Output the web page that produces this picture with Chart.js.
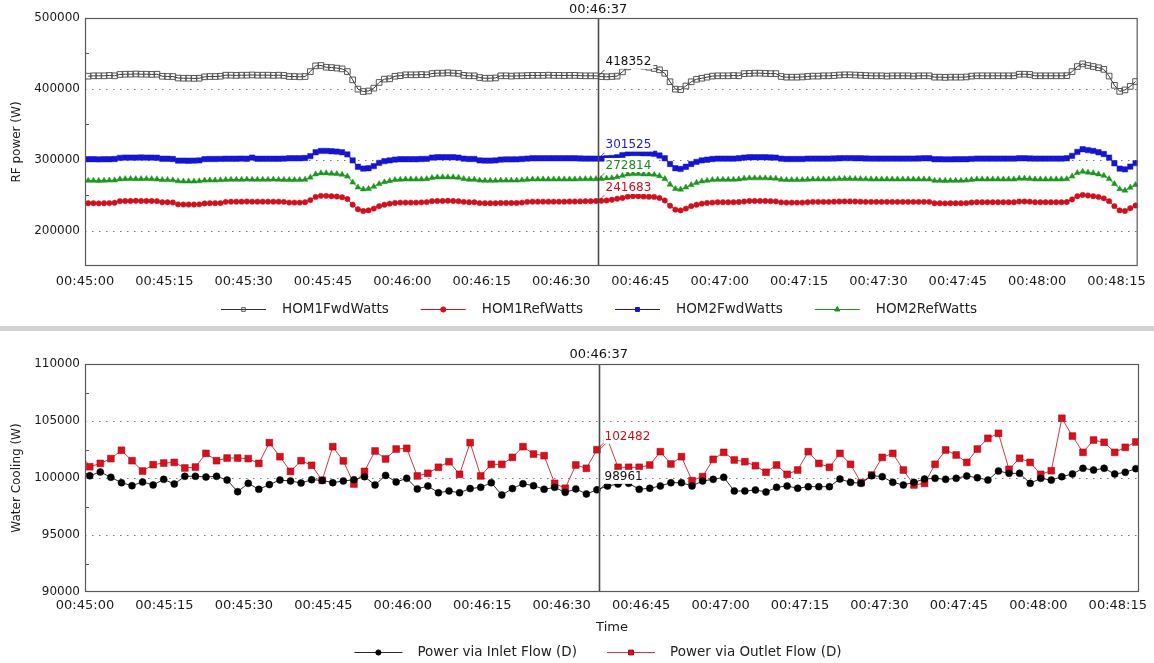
<!DOCTYPE html>
<html><head><meta charset="utf-8">
<script src="https://cdn.jsdelivr.net/npm/chart.js@4.4.1/dist/chart.umd.min.js"></script>
<style>
html,body{margin:0;padding:0;background:#fff;}
#wrap{position:relative;width:1154px;height:663px;overflow:hidden;background:#fff;}
#c1{position:absolute;left:0;top:0;}
#sep{position:absolute;left:0;top:326px;width:1154px;height:5px;background:#d2d2d2;}
#c2{position:absolute;left:0;top:331px;}
</style></head><body>
<div id="wrap">
<canvas id="c1" width="1154" height="326"></canvas>
<div id="sep"></div>
<canvas id="c2" width="1154" height="332"></canvas>
</div>
<script>
// ---------------- DATA ----------------
const clockStart = 45 * 60;          // 00:45:00 (seconds)
const cursorTime = 97;               // 00:46:37 (seconds after start)
const axisMaxTime = 199;
const rfStart = 0.6, rfStep = 1;     // RF power sampling grid (s)
const coolStart = -1.1, coolStep = 1.995; // water cooling sampling grid (s)

const rfTickValues = [200000, 300000, 400000, 500000];
const coolTickValues = [90000, 95000, 100000, 105000, 110000];

const rfSeriesNames = ['HOM1FwdWatts', 'HOM1RefWatts', 'HOM2FwdWatts', 'HOM2RefWatts'];
const coolSeriesNames = ['Power via Inlet Flow (D)', 'Power via Outlet Flow (D)'];
const rfAxisTitle = 'RF power (W)';
const coolAxisTitle = 'Water Cooling (W)';
const timeAxisTitle = 'Time';

const hom1Fwd = [
417900,418400,418400,418400,418900,418400,
420300,420700,420700,421000,420700,420700,420400,420700,
417800,417400,417400,
415300,415000,415000,414800,415000,
417000,417400,417400,417800,
419300,419300,419000,419300,419300,419600,419300,419300,419300,419000,419300,418900,
417400,417400,417000,417400,
424400,432500,433000,430500,430000,429300,428200,424400,
412700,399600,396200,397000,401000,409000,413700,414200,
417800,418600,419800,419800,419800,420200,419800,
421600,422200,422200,422600,422200,421800,
419000,418400,418400,
416000,415000,415000,415400,
418400,418400,418000,418400,418400,
418800,419000,419000,419000,419300,419000,419000,418800,419000,419000,418600,418400,418400,
418352,
417400,417000,417400,418000,
424000,431000,433500,433000,432000,430500,428800,
426800,422000,410000,399600,399000,404000,410000,413500,415000,416500,
418000,418400,418400,418400,418800,418400,
421500,421800,422200,422200,421800,421500,421500,
417500,416500,416500,416500,416800,
417500,418000,418000,418400,418400,418800,419500,419800,419800,419500,419200,418800,418400,418400,418400,418000,418400,418400,418400,418400,418000,418400,418400,418400,
416500,416500,416200,416500,416500,416500,416800,
418000,418400,418400,418400,418400,418400,418400,418400,418400,
420700,420700,420300,
418400,418400,418400,418400,418400,418400,418600,
424400,431500,435300,433000,431500,429800,427500,418000,405000,396500,398500,403500,410300
];
const hom1Ref = [
238600,238600,238400,238600,238800,239200,
241500,241800,241800,242000,241800,241800,241800,241500,
240000,240000,239600,
237000,236700,236700,236700,237000,
238300,238600,238600,238800,
240500,240800,240800,240800,241000,240800,240800,240800,240800,240800,240800,240500,
239500,239500,239500,240000,
243000,247500,249000,249000,248500,248000,247000,244500,
236500,230000,227700,228500,231000,234500,236500,238000,
239000,239500,239500,239500,239500,239800,240200,
241500,241800,241800,242000,241800,241500,
240500,240000,240000,
238800,238600,238600,238600,
239000,239000,239000,239000,239500,
240500,240800,240800,240800,240800,240800,240800,240800,241000,241000,241200,241500,241500,
241683,
242000,242500,243500,245000,
246000,247900,248500,248500,248000,247800,247500,
246000,242500,235000,229500,228500,231000,234500,236500,238000,239000,
239500,240000,240000,240000,240000,240300,
241000,241800,241800,241800,241800,241500,241200,
239800,239500,239500,239500,239500,
240000,240500,240500,240500,240500,240800,241000,241200,241200,241000,240800,240500,240500,240500,240500,240500,240500,240500,240500,240500,240500,240500,240500,240500,
238600,238600,238400,238600,238600,238600,238800,
239600,240000,240000,240000,240000,240000,240000,240000,240000,
241000,241000,240800,
240000,240000,240000,240000,240000,240000,240300,
244000,248500,250300,249500,248500,247500,245500,241500,234500,228500,227700,231500,235300
];
const hom2Fwd = [
300700,300700,300500,300700,300700,301000,
302600,303000,303000,303000,303200,303000,303000,302800,
301400,301400,301000,
298700,298700,298500,298700,299000,
300800,301000,301000,301200,
301400,301400,301400,301600,301400,303000,301400,301400,301400,301400,301400,301600,
302000,302000,302000,302400,
305000,310500,312400,312400,312000,311500,310500,307500,
299000,290000,287500,288000,291000,295500,298000,299000,
300200,300700,300700,300700,300700,301000,301200,
303000,303500,303500,303500,303500,303000,
301500,301000,301000,
299000,298700,298700,299000,
300200,300500,300500,300500,301000,
301600,302000,302000,302000,302000,302000,302000,302000,302000,302000,301800,301600,301600,
301525,
301500,302000,302500,303500,
306500,309200,309500,309500,309200,309000,308500,
306000,302000,294000,288000,287000,290000,294000,297000,299000,300000,
301000,301500,301500,301500,301500,302000,
303000,303500,303500,303500,303500,303200,303000,
301500,301000,301000,301000,301000,
301500,301600,301600,301600,301600,301800,302000,302200,302200,302000,302000,301800,301600,301600,301600,301600,301600,301600,301600,301600,301600,301800,302000,302000,
300700,300700,300500,300500,300700,300700,300700,
301200,301600,301600,301600,301600,301600,301600,301600,301600,
302000,302000,301800,
301600,301600,301600,301600,301600,301600,302000,
305500,311000,314800,313500,312400,310500,308000,303000,295000,287500,286400,290300,295100
];
const hom2Ref = [
270500,270500,270300,270500,270800,271000,
272500,272800,273000,272800,272800,273000,272800,272500,
271500,271500,271200,
269800,269500,269500,269500,269800,
270800,271000,271000,271200,
271800,272000,272000,272000,272200,272000,272000,272000,272000,272200,272000,271800,
271500,271500,271500,272000,
275000,279500,281000,281000,280500,280000,279000,276500,
268000,261000,258300,259000,262000,266000,268500,270000,
271500,272000,272400,272400,272400,272400,272800,
274500,275300,275300,275300,275300,274800,
273000,272000,272000,
270800,270500,270500,270500,
270800,270800,270800,270800,271200,
272000,272400,272400,272400,272400,272400,272400,272400,272400,272400,272600,272800,272800,
272814,
273000,273500,274000,275500,
277500,279500,280000,280000,279500,279500,279000,
277000,273000,265000,259000,258000,261000,264500,267500,269500,270500,
271500,272000,272000,272000,272000,272400,
273500,274000,274000,274000,274000,273800,273500,
272000,271500,271500,271500,271500,
272000,272400,272400,272400,272400,272600,273000,273200,273200,273000,272800,272600,272400,272400,272400,272400,272400,272400,272400,272400,272400,272400,272400,272400,
270500,270500,270300,270500,270500,270500,270800,
271800,272400,272400,272400,272400,272400,272400,272400,272400,
273500,273500,273200,
272400,272400,272400,272400,272400,272400,272800,
276500,281500,283200,282000,281000,279500,277500,273000,266000,258500,256600,260800,264600
];

const inletPower = [
100770,
100200,100530,100060,99590,99330,99650,99390,99880,99470,100150,
100150,100090,100150,99820,98800,99530,99010,99420,99820,99740,
99560,99850,99790,99590,99740,99850,100120,99390,100230,99650,
99970,99040,99300,98710,98860,98710,99070,99180,99590,98510,
99070,99500,99330,99010,99180,98740,99040,98600,98961,
99300,99470,99530,
99010,99100,99300,99590,99590,99300,99740,99880,100060,98860,
98860,98950,98770,99180,99300,99100,
99240,99240,99240,99910,99620,99530,100200,100120,99620,99390,
99620,99910,99970,99880,99970,100180,100030,99820,100610,100410,
100410,99530,99970,99820,100120,100350,100850,100700,100850,100350,
100500,100820
];
const outletPower = [
102300,
100990,101280,101700,102430,101520,100610,101170,101310,101370,100880,
100960,102160,101520,101750,101750,101700,101280,103100,101870,100580,
101520,101110,99800,102750,101500,99470,100580,102370,101670,102540,
102600,100180,100410,100940,101430,100320,103100,100180,101200,101200,
101810,102750,102100,101960,99530,99100,101140,100850,102482,
103400,100940,100940,
100940,101140,102310,101230,101870,99770,100120,101640,102250,101580,
101430,101080,100500,101140,100320,100700,
102310,101280,100940,102160,101200,99590,100260,101810,102160,100700,
99390,99530,101200,102460,102020,101370,102540,103480,103920,100760,
101730,101370,100320,100640,105240,103680,102250,103330,103130,102250,
102690,103160
];

// ---------------- HELPERS ----------------
const FONT = '"DejaVu Sans", Verdana, sans-serif';
const pad2 = n => String(n).padStart(2, '0');
function clock(t) {
  const s = Math.round(clockStart + t);
  return pad2(Math.floor(s / 3600)) + ':' + pad2(Math.floor(s / 60) % 60) + ':' + pad2(s % 60);
}
const toPoints = (arr, start, step) => arr.map((v, i) => ({ x: start + i * step, y: v }));

function framePlugin(opts) {
  return {
    id: 'frame',
    beforeDatasetsDraw(chart) {
      // dotted horizontal grid lines at the y ticks (inside the plot only)
      const { ctx, chartArea: a, scales } = chart;
      ctx.save();
      ctx.strokeStyle = '#7a7a7a'; ctx.lineWidth = 1; ctx.setLineDash([1.5, 5.5]);
      scales.y.ticks.forEach(t => {
        const py = Math.round(scales.y.getPixelForValue(t.value)) + 0.5;
        if (py <= a.top + 2 || py >= a.bottom - 2) return;
        ctx.beginPath(); ctx.moveTo(a.left, py); ctx.lineTo(a.right, py); ctx.stroke();
      });
      ctx.restore();
    },
    afterDatasetsDraw(chart) {
      const { ctx, chartArea: a, scales } = chart;
      ctx.save();
      // minor ticks on the y axis
      const ys = scales.y;
      const vals = ys.ticks.map(t => t.value);
      ctx.strokeStyle = '#555'; ctx.lineWidth = 1;
      for (let i = 0; i < vals.length - 1; i++) {
        const py = Math.round(ys.getPixelForValue((vals[i] + vals[i + 1]) / 2)) + 0.5;
        ctx.beginPath(); ctx.moveTo(a.left, py); ctx.lineTo(a.left + 4, py); ctx.stroke();
      }
      // cursor
      const cx = Math.round(scales.x.getPixelForValue(cursorTime)) + 0.5;
      ctx.strokeStyle = '#4a4a4a'; ctx.lineWidth = 1.6;
      ctx.beginPath(); ctx.moveTo(cx, a.top); ctx.lineTo(cx, a.bottom); ctx.stroke();
      // value labels at the cursor
      ctx.font = '12px ' + FONT;
      ctx.textBaseline = 'middle'; ctx.textAlign = 'left';
      chart.data.datasets.forEach((ds, di) => {
        let best = 0, bd = Infinity;
        ds.data.forEach((p, i) => { const d = Math.abs(p.x - cursorTime); if (d < bd) { bd = d; best = i; } });
        const v = ds.data[best].y;
        const py = ys.getPixelForValue(v);
        const txt = String(v);
        const w = ctx.measureText(txt).width;
        const tx = cx + opts.labelDx, ty = py - opts.labelDy;
        ctx.fillStyle = '#fff';
        ctx.fillRect(tx - 1, ty - 7, w + 3, 14);
        ctx.fillStyle = opts.labelColors[di];
        ctx.fillText(txt, tx, ty + 0.5);
        ctx.strokeStyle = opts.labelColors[di]; ctx.lineWidth = 0.8;
        ctx.beginPath(); ctx.moveTo(cx + 1, py - 1); ctx.lineTo(cx + 6, py - 6); ctx.stroke();
      });
      // frame
      ctx.strokeStyle = '#5a5a5a'; ctx.lineWidth = 1.2;
      ctx.strokeRect(a.left + 0.5, a.top + 0.5, a.right - a.left - 1, a.bottom - a.top - 1);
      ctx.restore();
    },
    afterDraw(chart) {
      const { ctx, chartArea: a, scales } = chart;
      ctx.save();
      const cx = scales.x.getPixelForValue(cursorTime);
      ctx.font = '13px ' + FONT; ctx.fillStyle = '#111';
      ctx.textAlign = 'center'; ctx.textBaseline = 'middle';
      ctx.fillText(clock(cursorTime), cx, a.top - opts.timeLabelDy);
      // legend
      const L = opts.legend;
      ctx.font = '13.5px ' + FONT;
      const items = chart.data.datasets;
      const widths = items.map(d => ctx.measureText(d.label).width);
      let total = 0;
      items.forEach((d, i) => { total += L.lineLen + L.gapText + widths[i] + (i < items.length - 1 ? L.gapItem : 0); });
      let x = L.center - total / 2;
      items.forEach((d, i) => {
        ctx.strokeStyle = d.borderColor; ctx.lineWidth = 1;
        ctx.beginPath(); ctx.moveTo(x, L.y + 0.5); ctx.lineTo(x + L.lineLen, L.y + 0.5); ctx.stroke();
        ctx.fillStyle = d.pointBackgroundColor; ctx.strokeStyle = d.pointBorderColor;
        Chart.helpers.drawPoint(ctx, { pointStyle: d.pointStyle, radius: L.markerR[i], rotation: 0, borderWidth: 1 }, x + L.lineLen / 2, L.y + 0.5);
        ctx.fillStyle = '#222'; ctx.textAlign = 'left'; ctx.textBaseline = 'middle';
        ctx.fillText(d.label, x + L.lineLen + L.gapText, L.y);
        x += L.lineLen + L.gapText + widths[i] + L.gapItem;
      });
      ctx.restore();
    }
  };
}

function xAxis(height, padding, title) {
  return {
    type: 'linear', min: 0, max: axisMaxTime,
    afterFit: s => { s.height = height; },
    ticks: { stepSize: 15, includeBounds: false, autoSkip: false, maxRotation: 0, minRotation: 0,
             padding: padding, color: '#1a1a1a', font: { family: FONT, size: 13 }, callback: v => clock(v) },
    grid: { display: false, drawTicks: false },
    border: { display: false },
    title: title ? { display: true, text: title, color: '#1a1a1a', font: { family: FONT, size: 13 }, padding: { top: 2, bottom: 4 } } : { display: false }
  };
}
function yAxis(min, max, tickValues, title) {
  return {
    min: min, max: max,
    afterFit: s => { s.width = 85; },
    afterBuildTicks: s => { s.ticks = tickValues.map(v => ({ value: v })); },
    ticks: { padding: 5, color: '#1a1a1a', font: { family: FONT, size: 12 }, callback: v => String(v) },
    grid: { display: false, drawTicks: false },
    border: { display: false },
    title: { display: true, text: title, color: '#1a1a1a', font: { family: FONT, size: 12 }, padding: { top: 10, bottom: 4 } }
  };
}

// ---------------- RF POWER CHART ----------------
new Chart(document.getElementById('c1'), {
  type: 'line',
  data: {
    datasets: [
      { label: rfSeriesNames[0], data: toPoints(hom1Fwd, rfStart, rfStep), borderColor: '#333', borderWidth: 1,
        pointStyle: 'rect', pointRadius: 4, pointBorderColor: '#555', pointBackgroundColor: 'rgba(255,255,255,0)', pointBorderWidth: 1 },
      { label: rfSeriesNames[1], data: toPoints(hom1Ref, rfStart, rfStep), borderColor: '#d0101c', borderWidth: 1,
        pointStyle: 'circle', pointRadius: 2.7, pointBorderColor: '#d0101c', pointBackgroundColor: '#d0101c', pointBorderWidth: 0.5 },
      { label: rfSeriesNames[2], data: toPoints(hom2Fwd, rfStart, rfStep), borderColor: '#1414d2', borderWidth: 1,
        pointStyle: 'rect', pointRadius: 3.8, pointBorderColor: '#1414d2', pointBackgroundColor: '#1414d2', pointBorderWidth: 0.5 },
      { label: rfSeriesNames[3], data: toPoints(hom2Ref, rfStart, rfStep), borderColor: '#1c961c', borderWidth: 1,
        pointStyle: 'triangle', pointRadius: 3.4, pointBorderColor: '#1c961c', pointBackgroundColor: '#1c961c', pointBorderWidth: 0.5 }
    ]
  },
  options: {
    responsive: false, animation: false,
    layout: { padding: { left: 0, right: 15, top: 18, bottom: 0 } },
    plugins: { legend: { display: false }, tooltip: { enabled: false } },
    scales: { x: xAxis(60, 8, null), y: yAxis(150000, 500000, rfTickValues, rfAxisTitle) }
  },
  plugins: [framePlugin({
    labelDx: 7, labelDy: 14, timeLabelDy: 8,
    labelColors: ['#111', '#c8101c', '#1a1ac8', '#1a8a1a'],
    legend: { y: 309, center: 599, lineLen: 45, gapText: 16, gapItem: 32, markerR: [2.6, 2.6, 2.8, 3] }
  })]
});

// ---------------- WATER COOLING CHART ----------------
new Chart(document.getElementById('c2'), {
  type: 'line',
  data: {
    datasets: [
      { label: coolSeriesNames[0], data: toPoints(inletPower, coolStart, coolStep), borderColor: '#2a2a2a', borderWidth: 1,
        pointStyle: 'circle', pointRadius: 3.5, pointBorderColor: '#000', pointBackgroundColor: '#000', pointBorderWidth: 0.5 },
      { label: coolSeriesNames[1], data: toPoints(outletPower, coolStart, coolStep), borderColor: '#c83a48', borderWidth: 1,
        pointStyle: 'rect', pointRadius: 4.8, pointBorderColor: '#a00010', pointBackgroundColor: '#d8101c', pointBorderWidth: 0.5 }
    ]
  },
  options: {
    responsive: false, animation: false,
    layout: { padding: { left: 0, right: 15, top: 33, bottom: 24 } },
    plugins: { legend: { display: false }, tooltip: { enabled: false } },
    scales: { x: xAxis(47, 6, timeAxisTitle), y: yAxis(90000, 110000, coolTickValues, coolAxisTitle) }
  },
  plugins: [framePlugin({
    labelDx: 5, labelDy: 13, timeLabelDy: 9,
    labelColors: ['#111', '#c8101c'],
    legend: { y: 321, center: 598, lineLen: 48, gapText: 15, gapItem: 30, markerR: [2.6, 3.4] }
  })]
});
</script>
</body></html>
